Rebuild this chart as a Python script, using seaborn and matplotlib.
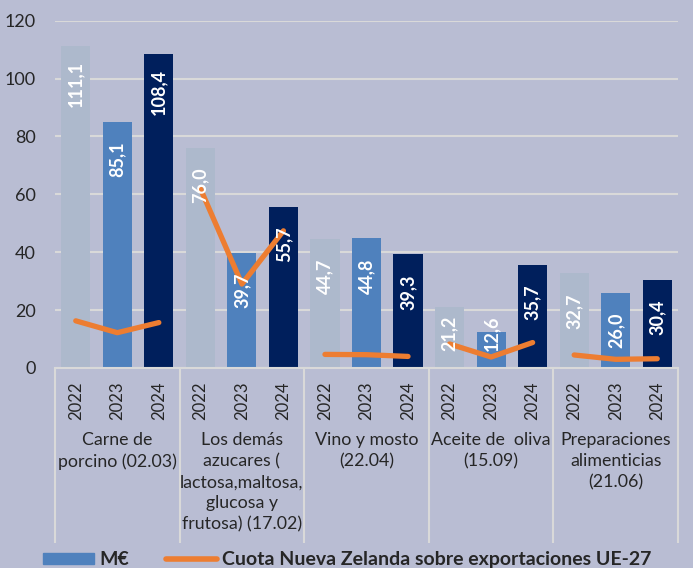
import matplotlib.pyplot as plt
import numpy as np
import pandas as pd
import seaborn as sns
from matplotlib.patches import Patch
from matplotlib.lines import Line2D

sns.set_style("white")
plt.rcParams['font.family'] = ['Lato', 'DejaVu Sans']

groups = ["Carne de\nporcino (02.03)",
          "Los demás\nazucares (\nlactosa,maltosa,\nglucosa y\nfrutosa) (17.02)",
          "Vino y mosto\n(22.04)",
          "Aceite de  oliva\n(15.09)",
          "Preparaciones\nalimenticias\n(21.06)"]
years = ["2022", "2023", "2024"]

# M€ per product and year
meur_2022 = [111.1, 76.0, 44.7, 21.2, 32.7]
meur_2023 = [85.1, 39.7, 44.8, 12.6, 26.0]
meur_2024 = [108.4, 55.7, 39.3, 35.7, 30.4]

# cuota Nueva Zelanda (%)
cuota_2022 = [16.3, 62.0, 4.7, 8.3, 4.5]
cuota_2023 = [12.2, 29.0, 4.6, 3.8, 3.0]
cuota_2024 = [15.7, 47.4, 4.0, 8.8, 3.2]

bg = "#b9bdd3"
colors = {"2022": "#adb9cc", "2023": "#4f81bd", "2024": "#001f5c"}
orange = "#ed7d31"
grid_c = "#d9d9d9"

rows = []
for i, g in enumerate(groups):
    for y, m, c in zip(years, [meur_2022[i], meur_2023[i], meur_2024[i]],
                       [cuota_2022[i], cuota_2023[i], cuota_2024[i]]):
        rows.append({"group": g, "year": y, "slot": f"{i}|{y}", "meur": m, "cuota": c})
df = pd.DataFrame(rows)
df["pos"] = np.arange(len(df))

fig = plt.figure(figsize=(6.93, 5.68), dpi=100, facecolor=bg)
ax = fig.add_axes([55/693, 1 - 368/568, (678 - 55)/693, (368 - 20.7)/568])
ax.set_facecolor(bg)

sns.barplot(data=df, x="slot", y="meur", hue="year", palette=colors, order=list(df["slot"]),
            dodge=False, width=0.7, saturation=1, legend=False, ax=ax, zorder=2,
            edgecolor="none", linewidth=0)

for i, g in enumerate(groups):
    sub = df[df["group"] == g]
    sns.lineplot(x=sub["pos"].values, y=sub["cuota"].values, color=orange, lw=3.8,
                 solid_capstyle="round", ax=ax, zorder=3)

# value labels
for _, r in df.iterrows():
    yc = max(r["meur"] - 13, 12)
    ax.text(r["pos"], yc, f"{r['meur']:.1f}".replace(".", ","), rotation=90,
            ha="center", va="center", color="white", fontsize=13, fontweight="bold", zorder=4)

ax.set_xlim(-0.5, 14.5)
ax.set_ylim(0, 120)
ax.set_yticks(range(0, 121, 20))
ax.set_xticks(df["pos"])
ax.set_xticklabels(df["year"], rotation=90, fontsize=12)
ax.tick_params(axis="x", length=0, pad=10)
ax.tick_params(axis="y", length=0, pad=14, labelsize=13)
ax.set_xlabel("")
ax.set_ylabel("")
ax.yaxis.grid(True, color=grid_c, lw=1.5, zorder=0)
ax.set_axisbelow(True)
for s in ["top", "right", "left"]:
    ax.spines[s].set_visible(False)
ax.spines["bottom"].set_color(grid_c)
ax.spines["bottom"].set_linewidth(1.5)

# group labels and separators
xt = ax.get_xaxis_transform()
for i, g in enumerate(groups):
    ax.text(i * 3 + 1, -0.185, g, transform=xt, ha="center", va="top",
            fontsize=12.8, linespacing=1.38)
ax.vlines(np.arange(-0.5, 15, 3), -0.504, 0, transform=xt, colors=grid_c, lw=1.5, clip_on=False)

handles = [Patch(color=colors["2023"]), Line2D([], [], color=orange, lw=4)]
fig.legend(handles, ["M€", "Cuota Nueva Zelanda sobre exportaciones UE-27"],
           loc="lower left", bbox_to_anchor=(43/693, 0.0), ncol=2, frameon=False,
           prop={"weight": "bold", "size": 14}, handlelength=2.6, handleheight=0.5,
           handletextpad=0.3, columnspacing=1.9, borderaxespad=0, borderpad=0)

fig.savefig("out.png", dpi=100, facecolor=bg)
